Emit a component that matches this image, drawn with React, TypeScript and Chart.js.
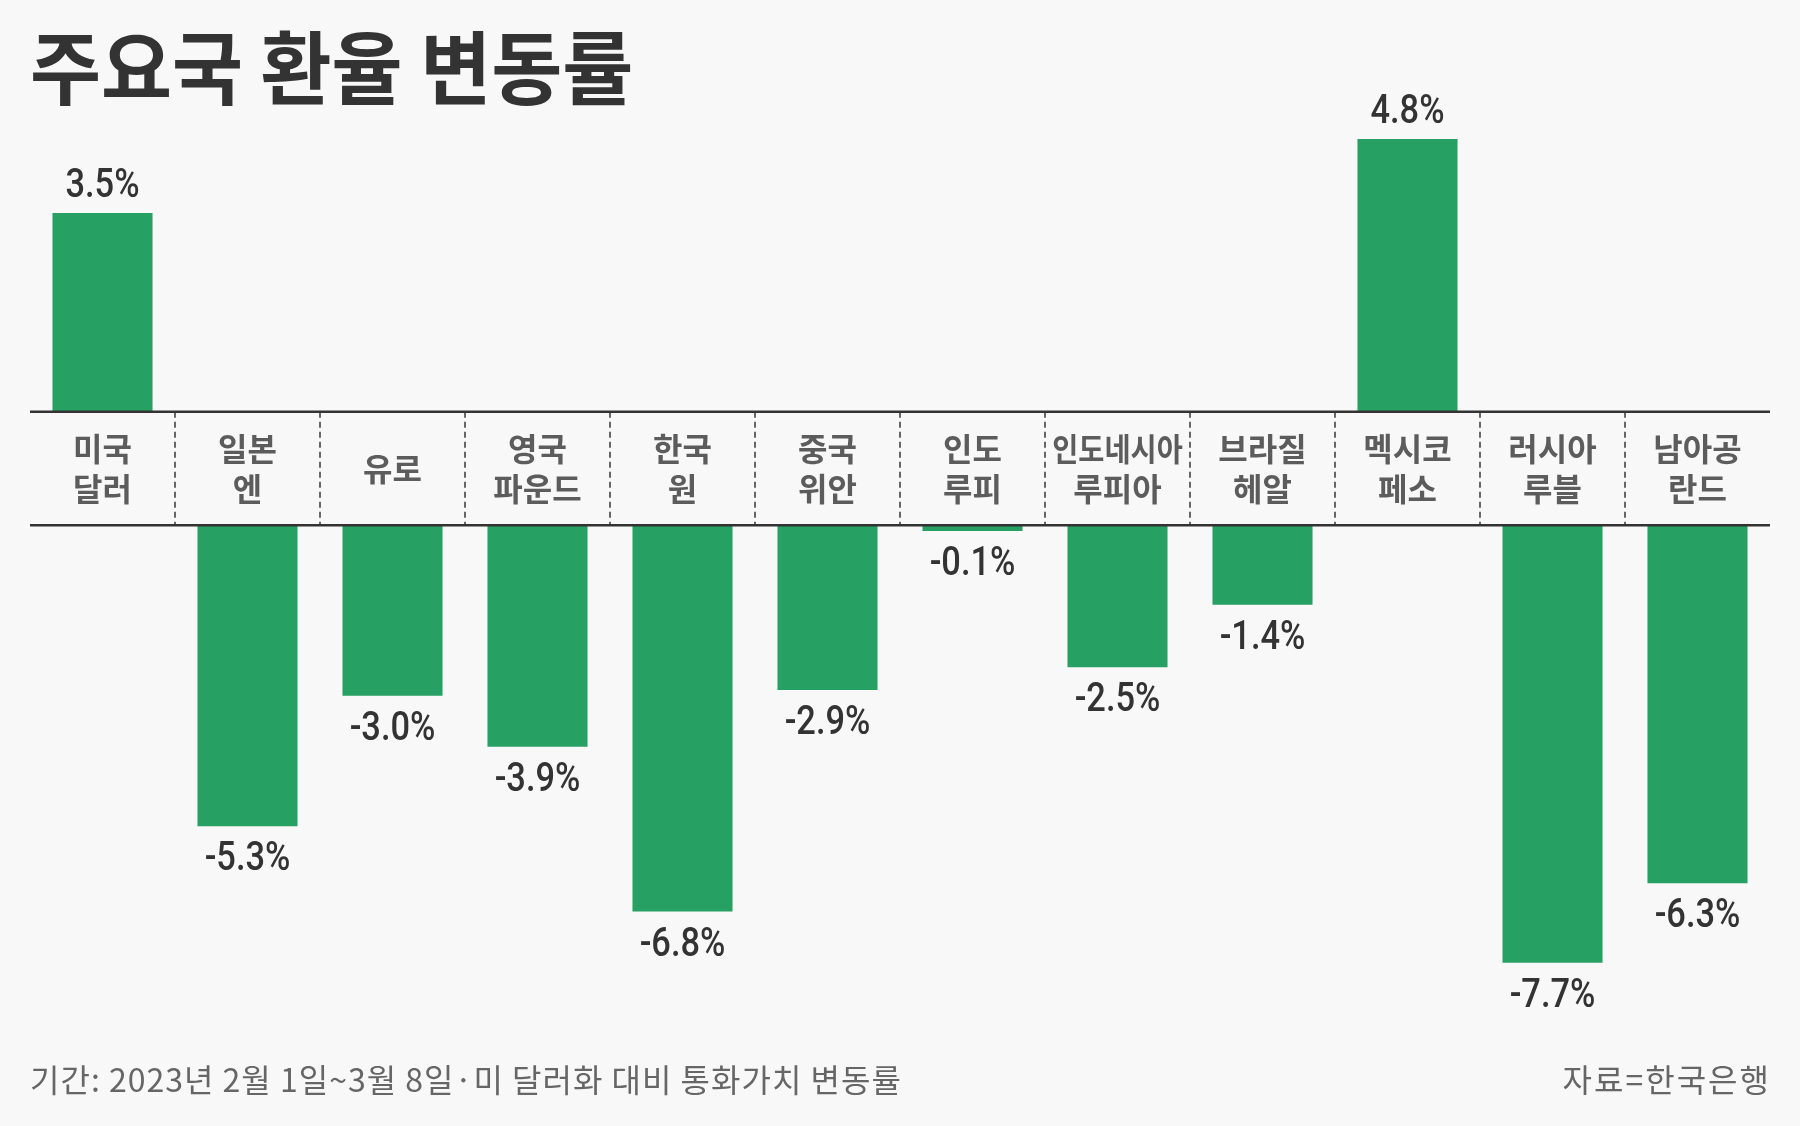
import { useEffect, useRef } from "react";
import { Chart, registerables } from "chart.js";

Chart.register(...registerables);

// 통화 이름 (두 줄)
const currencies = [
  ["미국", "달러"],
  ["일본", "엔"],
  ["유로"],
  ["영국", "파운드"],
  ["한국", "원"],
  ["중국", "위안"],
  ["인도", "루피"],
  ["인도네시아", "루피아"],
  ["브라질", "헤알"],
  ["멕시코", "페소"],
  ["러시아", "루블"],
  ["남아공", "란드"],
];
// 미 달러화 대비 변동률 (%)
const changes = [3.5, -5.3, -3.0, -3.9, -6.8, -2.9, -0.1, -2.5, -1.4, 4.8, -7.7, -6.3];

const posMax = 5.5;
const negMin = -8.5;

const title = "주요국 환율 변동률";
const note = "기간: 2023년 2월 1일~3월 8일·미 달러화 대비 통화가치 변동률";
const source = "자료=한국은행";

const GREEN = "#26a063";
const INK = "#333333";
const GREY = "#5c5c5c";
const KR = "'Noto Sans CJK KR', 'Noto Sans', sans-serif";

const bandPlugin = {
  id: "band",
  afterDatasetsDraw(chart: any) {
    const { ctx, chartArea, scales } = chart;
    const x = scales.x;
    const mid = scales.yMid;
    const top = mid.top;
    const bottom = mid.bottom;
    const step = x.getPixelForValue(1) - x.getPixelForValue(0);
    ctx.save();

    // 점선 구분선
    ctx.strokeStyle = "#666";
    ctx.lineWidth = 2;
    ctx.setLineDash([6, 4]);
    for (let i = 1; i < currencies.length; i++) {
      const px = Math.round(x.getPixelForValue(i) - step / 2);
      ctx.beginPath();
      ctx.moveTo(px, top);
      ctx.lineTo(px, bottom);
      ctx.stroke();
    }
    ctx.setLineDash([]);
    ctx.strokeStyle = INK;
    ctx.lineWidth = 2.5;
    [top, bottom].forEach((y) => {
      ctx.beginPath();
      ctx.moveTo(chartArea.left, y);
      ctx.lineTo(chartArea.right, y);
      ctx.stroke();
    });

    // 통화 이름
    ctx.fillStyle = GREY;
    ctx.font = `bold 32px ${KR}`;
    ctx.textAlign = "center";
    ctx.textBaseline = "alphabetic";
    const c = (top + bottom) / 2;
    currencies.forEach((lines, i) => {
      const px = x.getPixelForValue(i);
      lines.forEach((t, j) => {
        const cy = c + (j - (lines.length - 1) / 2) * 40;
        ctx.fillText(t, px, cy + 12, step * 0.9);
      });
    });

    // 값 라벨
    ctx.fillStyle = INK;
    ctx.font = "500 40px Roboto";
    chart.data.datasets.forEach((ds: any, d: number) => {
      chart.getDatasetMeta(d).data.forEach((bar: any, i: number) => {
        const v = ds.data[i];
        if (v == null) return;
        const y = v >= 0 ? bar.y - 16 : bar.y + 44;
        ctx.save();
        ctx.translate(bar.x, y);
        ctx.scale(0.86, 1);
        ctx.fillText(`${v.toFixed(1)}%`, 0, 0);
        ctx.restore();
      });
    });
    ctx.restore();
  },
};

export default function App() {
  const ref = useRef<HTMLCanvasElement>(null);

  useEffect(() => {
    const barStyle = {
      backgroundColor: GREEN,
      borderWidth: 0,
      grouped: false,
      barPercentage: 0.69,
      categoryPercentage: 1,
    };
    const chart = new Chart(ref.current!, {
      type: "bar",
      data: {
        labels: currencies,
        datasets: [
          { ...barStyle, data: changes.map((v) => (v >= 0 ? v : null)), yAxisID: "yPos" },
          { ...barStyle, data: changes.map((v) => (v < 0 ? v : null)), yAxisID: "yNeg" },
        ],
      },
      options: {
        responsive: false,
        animation: false,
        events: [],
        layout: { padding: { top: 99.3, bottom: 117.9, left: 30, right: 30 } },
        plugins: { legend: { display: false }, tooltip: { enabled: false } },
        scales: {
          x: { display: false },
          yPos: { type: "linear", position: "left", stack: "bands", stackWeight: posMax, weight: 3, min: 0, max: posMax, display: false },
          yMid: { type: "linear", position: "left", stack: "bands", stackWeight: 2, weight: 2, min: 0, max: 1, display: false },
          yNeg: { type: "linear", position: "left", stack: "bands", stackWeight: -negMin, weight: 1, min: negMin, max: 0, display: false },
        },
      } as any,
      plugins: [bandPlugin],
    });
    return () => chart.destroy();
  }, []);

  const foot = { position: "absolute" as const, top: 1062, margin: 0, font: `32px/32px ${KR}`, color: "#666", whiteSpace: "nowrap" as const };

  return (
    <div style={{ position: "absolute", left: 0, top: 0, width: 1800, height: 1126, background: "#f8f8f8", overflow: "hidden" }}>
      <h1
        style={{
          position: "absolute",
          left: 30,
          top: 23,
          margin: 0,
          font: `bold 80px/80px ${KR}`,
          color: INK,
          transform: "scaleX(0.965)",
          transformOrigin: "0 0",
          whiteSpace: "nowrap",
        }}
      >
        {title}
      </h1>
      <canvas ref={ref} width={1800} height={1126} style={{ position: "absolute", left: 0, top: 0 }} />
      <p style={{ ...foot, left: 30, letterSpacing: 1 }}>{note}</p>
      <p style={{ ...foot, right: 29, letterSpacing: 2 }}>{source}</p>
    </div>
  );
}
